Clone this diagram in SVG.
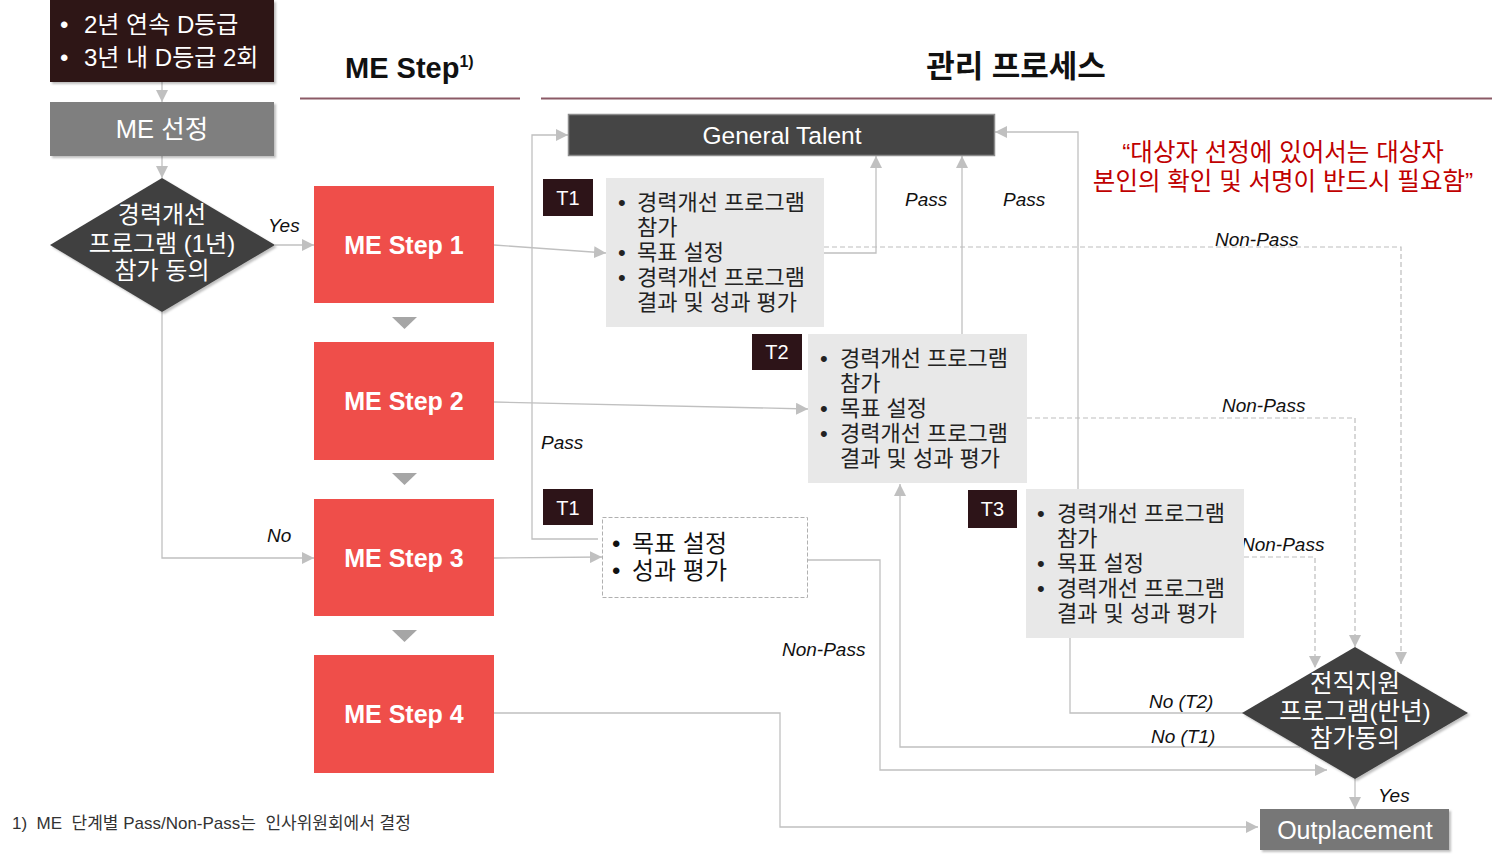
<svg xmlns="http://www.w3.org/2000/svg" width="1493" height="862" viewBox="0 0 1493 862">
<style>
text{font-family:"Liberation Sans","Noto Sans CJK KR",sans-serif}
.w{fill:#fff}
.step{fill:#ef4e4a}
.stept{fill:#fff;font-weight:bold;font-size:25px}
.lbl{fill:#2d1418}
.lblt{fill:#fff;font-size:20px}
.gbox{fill:#e8e8e8}
.gt{fill:#222;font-size:22px}
.it{font-style:italic;font-size:19px;fill:#111}
.ln{fill:none;stroke:#c0c0c0;stroke-width:1.3}
.dl{fill:none;stroke:#bdbdbd;stroke-width:1.2;stroke-dasharray:5,3}
.tri{fill:#a6a6a6}
</style>
<defs>
<marker id="ah" markerUnits="userSpaceOnUse" markerWidth="12" markerHeight="12" refX="12" refY="6" orient="auto">
<path d="M0,0 L12,6 L0,12 z" fill="#c0c0c0"/>
</marker>
<filter id="sh" x="-10%" y="-10%" width="130%" height="130%">
<feDropShadow dx="2" dy="2" stdDeviation="1" flood-color="#000" flood-opacity="0.25"/>
</filter>
</defs>
<rect width="1493" height="862" fill="#fff"/>

<g id="headers">
<text x="345" y="78" font-size="29" font-weight="bold" fill="#111">ME Step<tspan font-size="16" dy="-11">1)</tspan></text>
<line x1="300" y1="98.5" x2="520" y2="98.5" stroke="#8b5a66" stroke-width="2"/>
<text x="1016" y="77" font-size="31" font-weight="bold" fill="#111" text-anchor="middle">관리 프로세스</text>
<line x1="541" y1="98.5" x2="1492" y2="98.5" stroke="#8b5a66" stroke-width="2"/>
</g>

<g id="connectors">
<line class="ln" x1="162" y1="82" x2="162" y2="102" marker-end="url(#ah)"/>
<line class="ln" x1="162" y1="156" x2="162" y2="178" marker-end="url(#ah)"/>
<line class="ln" x1="275" y1="245" x2="314" y2="245" marker-end="url(#ah)"/>
<polyline class="ln" points="162,312 162,558 314,558" marker-end="url(#ah)"/>
<line class="ln" x1="494" y1="245" x2="606" y2="253" marker-end="url(#ah)"/>
<line class="ln" x1="494" y1="402" x2="808" y2="409" marker-end="url(#ah)"/>
<line class="ln" x1="494" y1="558" x2="602" y2="557" marker-end="url(#ah)"/>
<polyline class="ln" points="598,539 532,539 532,135 568,135" marker-end="url(#ah)"/>
<polyline class="ln" points="824,253 876,253 876,156" marker-end="url(#ah)"/>
<line class="ln" x1="962" y1="334" x2="962" y2="156" marker-end="url(#ah)"/>
<polyline class="ln" points="1078,489 1078,132 995,132" marker-end="url(#ah)"/>
<polyline class="dl" points="824,247 1401,247 1401,664" marker-end="url(#ah)"/>
<polyline class="dl" points="1027,418 1355,418 1355,647" marker-end="url(#ah)"/>
<polyline class="dl" points="1244,557 1315,557 1315,668" marker-end="url(#ah)"/>
<polyline class="ln" points="1070,638 1070,713 1243,713"/>
<polyline class="ln" points="1300,747 900,747 900,484" marker-end="url(#ah)"/>
<polyline class="ln" points="807,560 880,560 880,770 1327,770" marker-end="url(#ah)"/>
<polyline class="ln" points="494,713 780,713 780,827 1258,827" marker-end="url(#ah)"/>
<line class="ln" x1="1355" y1="779" x2="1355" y2="809" marker-end="url(#ah)"/>
<polygon class="tri" points="392,317 417,317 404.5,329"/>
<polygon class="tri" points="392,473 417,473 404.5,485"/>
<polygon class="tri" points="392,630 417,630 404.5,642"/>
</g>

<g id="labels">
<text class="it" x="268" y="232">Yes</text>
<text class="it" x="267" y="542">No</text>
<text class="it" x="905" y="206">Pass</text>
<text class="it" x="1003" y="206">Pass</text>
<text class="it" x="541" y="449">Pass</text>
<text class="it" x="1215" y="246">Non-Pass</text>
<text class="it" x="1222" y="412">Non-Pass</text>
<text class="it" x="1241" y="551">Non-Pass</text>
<text class="it" x="782" y="656">Non-Pass</text>
<text class="it" x="1149" y="708">No (T2)</text>
<text class="it" x="1151" y="743">No (T1)</text>
<text class="it" x="1378" y="802">Yes</text>
</g>

<g id="criteria">
<rect x="50" y="0" width="224" height="82" fill="#2e1519" filter="url(#sh)"/>
<text class="w" font-size="24"><tspan x="60" y="33">•</tspan><tspan x="84" y="33">2년 연속 D등급</tspan><tspan x="60" y="66">•</tspan><tspan x="84" y="66">3년 내 D등급 2회</tspan></text>
</g>

<g id="me-select">
<rect x="50" y="102" width="224" height="54" fill="#7f7f7f" filter="url(#sh)"/>
<text class="w" x="162" y="138" font-size="25.5" text-anchor="middle">ME 선정</text>
</g>

<g id="agree1">
<polygon points="162,178 275,245 162,312 50,245" fill="#404040" filter="url(#sh)"/>
<text class="w" font-size="24" text-anchor="middle"><tspan x="162" y="223">경력개선</tspan><tspan x="162" y="252">프로그램 (1년)</tspan><tspan x="162" y="279">참가 동의</tspan></text>
</g>

<g id="step1"><rect class="step" x="314" y="186" width="180" height="117"/><text class="stept" x="404" y="254" text-anchor="middle">ME Step 1</text></g>
<g id="step2"><rect class="step" x="314" y="342" width="180" height="118"/><text class="stept" x="404" y="410" text-anchor="middle">ME Step 2</text></g>
<g id="step3"><rect class="step" x="314" y="499" width="180" height="117"/><text class="stept" x="404" y="567" text-anchor="middle">ME Step 3</text></g>
<g id="step4"><rect class="step" x="314" y="655" width="180" height="118"/><text class="stept" x="404" y="723" text-anchor="middle">ME Step 4</text></g>

<g id="general-talent">
<rect x="568.5" y="114.5" width="426" height="41" fill="#454545" stroke="#8c8c8c" stroke-width="1.5"/>
<text class="w" x="782" y="144" font-size="24.5" text-anchor="middle">General Talent</text>
</g>

<g id="quote">
<text x="1283" y="161" font-size="24.5" fill="#c00000" text-anchor="middle">“대상자 선정에 있어서는 대상자</text>
<text x="1283" y="190" font-size="24.5" fill="#c00000" text-anchor="middle">본인의 확인 및 서명이 반드시 필요함”</text>
</g>

<g id="t1">
<rect class="lbl" x="543" y="179" width="50" height="37"/>
<text class="lblt" x="568" y="205" text-anchor="middle">T1</text>
<rect class="gbox" x="606" y="178" width="218" height="149"/>
<text class="gt"><tspan x="618" y="210">•</tspan><tspan x="637" y="210">경력개선 프로그램</tspan><tspan x="637" y="235">참가</tspan><tspan x="618" y="260">•</tspan><tspan x="637" y="260">목표 설정</tspan><tspan x="618" y="285">•</tspan><tspan x="637" y="285">경력개선 프로그램</tspan><tspan x="637" y="310">결과 및 성과 평가</tspan></text>
</g>

<g id="t2">
<rect class="lbl" x="752" y="334" width="50" height="36"/>
<text class="lblt" x="777" y="359" text-anchor="middle">T2</text>
<rect class="gbox" x="808" y="334" width="219" height="149"/>
<text class="gt"><tspan x="820" y="366">•</tspan><tspan x="840" y="366">경력개선 프로그램</tspan><tspan x="840" y="391">참가</tspan><tspan x="820" y="416">•</tspan><tspan x="840" y="416">목표 설정</tspan><tspan x="820" y="441">•</tspan><tspan x="840" y="441">경력개선 프로그램</tspan><tspan x="840" y="466">결과 및 성과 평가</tspan></text>
</g>

<g id="t1-step3">
<rect class="lbl" x="543" y="489" width="50" height="36"/>
<text class="lblt" x="568" y="515" text-anchor="middle">T1</text>
<rect x="602.5" y="517.5" width="205" height="80" fill="#fff" stroke="#b0b0b0" stroke-dasharray="4,2"/>
<text fill="#111" font-size="24"><tspan x="612" y="552">•</tspan><tspan x="632" y="552">목표 설정</tspan><tspan x="612" y="579">•</tspan><tspan x="632" y="579">성과 평가</tspan></text>
</g>

<g id="t3">
<rect class="lbl" x="968" y="490" width="49" height="38"/>
<text class="lblt" x="992.5" y="516" text-anchor="middle">T3</text>
<rect class="gbox" x="1026" y="489" width="218" height="149"/>
<text class="gt"><tspan x="1037" y="521">•</tspan><tspan x="1057" y="521">경력개선 프로그램</tspan><tspan x="1057" y="546">참가</tspan><tspan x="1037" y="571">•</tspan><tspan x="1057" y="571">목표 설정</tspan><tspan x="1037" y="596">•</tspan><tspan x="1057" y="596">경력개선 프로그램</tspan><tspan x="1057" y="621">결과 및 성과 평가</tspan></text>
</g>

<g id="agree2">
<polygon points="1355,647 1468,713 1355,779 1242,713" fill="#404040" filter="url(#sh)"/>
<text class="w" font-size="24.5" text-anchor="middle"><tspan x="1355" y="692">전직지원</tspan><tspan x="1355" y="720">프로그램(반년)</tspan><tspan x="1355" y="747">참가동의</tspan></text>
</g>

<g id="outplacement">
<rect x="1260" y="809" width="189" height="41" fill="#777" filter="url(#sh)"/>
<text class="w" x="1355" y="839" font-size="25" text-anchor="middle">Outplacement</text>
</g>

<g id="footnote">
<text x="12" y="829" font-size="17" fill="#333" xml:space="preserve">1)  ME  단계별 Pass/Non-Pass는  인사위원회에서 결정</text>
</g>
</svg>
